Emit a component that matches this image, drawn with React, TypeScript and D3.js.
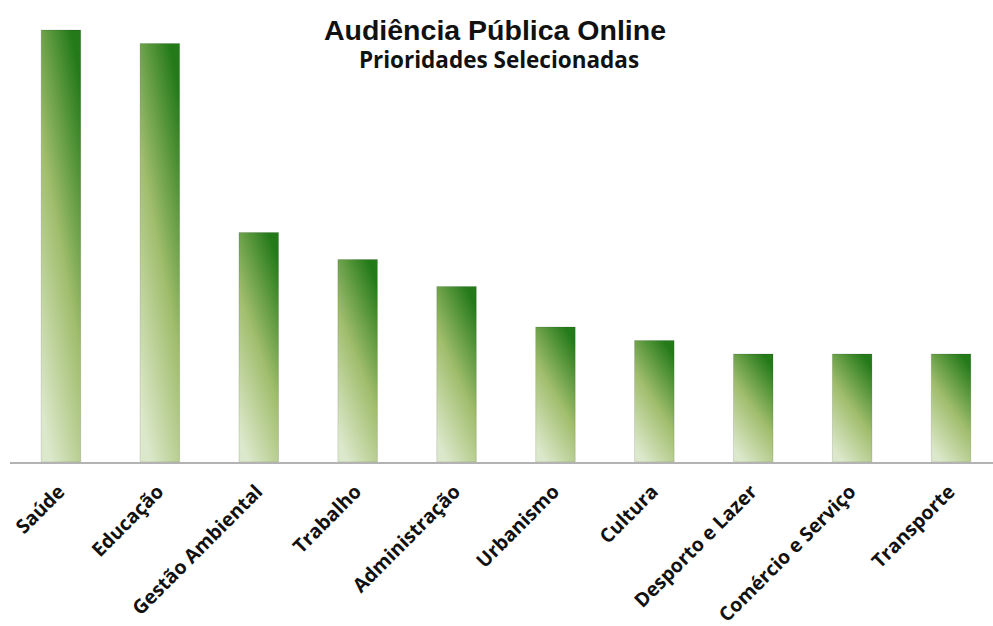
import React from "react";
import * as d3 from "d3";

const categories = [
  "Saúde",
  "Educação",
  "Gestão Ambiental",
  "Trabalho",
  "Administração",
  "Urbanismo",
  "Cultura",
  "Desporto e Lazer",
  "Comércio e Serviço",
  "Transporte",
];
const values = [32, 31, 17, 15, 13, 10, 9, 8, 8, 8];
const title = "Audiência Pública Online";
const subtitle = "Prioridades Selecionadas";

const W = 993;
const H = 626;
const baseY = 462;

export default function App() {
  const x = d3
    .scaleBand<string>()
    .domain(categories)
    .range([11.5, 1000.5])
    .paddingInner(0.6)
    .paddingOuter(0.3);
  const y = d3.scaleLinear().domain([0, 32]).range([baseY, 30]);
  const labelFont = "'Open Sans', Lato, sans-serif";

  return (
    <svg
      width={W}
      height={H}
      style={{ position: "fixed", left: 0, top: 0, background: "#fff" }}
    >
      <defs>
        <linearGradient id="barGrad" x1="0.75" y1="0" x2="0.25" y2="1">
          <stop offset="0" stopColor="#247a19" />
          <stop offset="0.5" stopColor="#a0bd6c" />
          <stop offset="1" stopColor="#dce8cb" />
        </linearGradient>
      </defs>
      <text
        x={495}
        y={40}
        textAnchor="middle"
        fontFamily="'Liberation Sans', Arial, sans-serif"
        fontWeight="bold"
        fontSize={28.5}
        fill="#111"
      >
        {title}
      </text>
      <text
        x={499}
        y={68}
        textAnchor="middle"
        fontFamily={labelFont}
        fontWeight="bold"
        fontSize={22.5}
        fill="#111"
      >
        {subtitle}
      </text>
      {categories.map((c, i) => (
        <rect
          key={c}
          x={x(c)}
          y={y(values[i])}
          width={x.bandwidth()}
          height={baseY - y(values[i])}
          fill="url(#barGrad)"
          stroke="rgba(0,0,0,0.12)"
          strokeWidth={1}
        />
      ))}
      <line x1={10} x2={W} y1={baseY + 1} y2={baseY + 1} stroke="#b3b3b3" strokeWidth={2} />
      {categories.map((c) => {
        const cx = (x(c) as number) + x.bandwidth() / 2 + 5;
        const cy = 493;
        return (
          <text
            key={c}
            transform={`translate(${cx},${cy}) rotate(-45)`}
            textAnchor="end"
            fontFamily={labelFont}
            fontWeight="bold"
            fontSize={19.5}
            fill="#111"
          >
            {c}
          </text>
        );
      })}
    </svg>
  );
}
